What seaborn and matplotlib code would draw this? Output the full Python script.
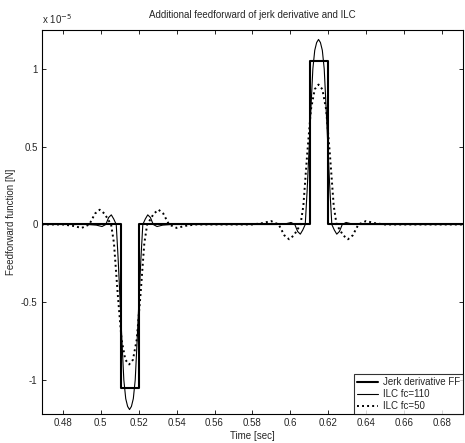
import matplotlib
matplotlib.use("Agg")
import matplotlib.pyplot as plt
import seaborn as sns
import pandas as pd
from matplotlib.ticker import FormatStrFormatter, FixedLocator

# ---- data (values in units of 1e-5 N) ----
jerk_t = [0.469, 0.5108, 0.5108, 0.5200, 0.5200, 0.6102, 0.6102, 0.6198, 0.6198, 0.691]
jerk_v = [0.0, 0.0, -1.05, -1.05, 0.0, 0.0, 1.05, 1.05, 0.0, 0.0]

ilc110_t = [0.469, 0.4932, 0.4977, 0.5007, 0.5027, 0.5042, 0.5056, 0.5069, 0.5082, 0.5092,
            0.5102, 0.5112, 0.5122, 0.5132, 0.5142, 0.5152, 0.5162, 0.5172, 0.5182, 0.5192,
            0.5202, 0.5212, 0.5222, 0.5235, 0.5248, 0.5262, 0.5277, 0.5297, 0.5327, 0.5372,
            0.5928, 0.5973, 0.6003, 0.6023, 0.6038, 0.6052, 0.6065, 0.6078, 0.6088, 0.6098,
            0.6108, 0.6118, 0.6128, 0.6138, 0.6148, 0.6158, 0.6168, 0.6178, 0.6188, 0.6198,
            0.6208, 0.6218, 0.6231, 0.6244, 0.6258, 0.6273, 0.6293, 0.6323, 0.6368, 0.691]
ilc110_v = [0.0, 0.0, -0.004, -0.013, 0.0, 0.045, 0.062, 0.035, 0.0, -0.22,
            -0.48, -0.75, -1.0, -1.12, -1.17, -1.19, -1.17, -1.12, -1.0, -0.75,
            -0.48, -0.22, 0.0, 0.035, 0.062, 0.045, 0.0, -0.013, -0.004, 0.0,
            0.0, 0.004, 0.013, 0.0, -0.045, -0.062, -0.035, 0.0, 0.22, 0.48,
            0.75, 1.0, 1.12, 1.17, 1.19, 1.17, 1.12, 1.0, 0.75, 0.48,
            0.22, 0.0, -0.035, -0.062, -0.045, 0.0, 0.013, 0.004, 0.0, 0.0]

ilc50_t = [0.469, 0.4800, 0.4850, 0.4900, 0.4940, 0.4970, 0.4995, 0.5020, 0.5040, 0.5055,
           0.5070, 0.5090, 0.5110, 0.5130, 0.5150, 0.5170, 0.5190, 0.5210, 0.5230, 0.5245,
           0.5260, 0.5280, 0.5305, 0.5330, 0.5360, 0.5400, 0.5450, 0.5500,
           0.5798, 0.5848, 0.5898, 0.5938, 0.5968, 0.5993, 0.6018, 0.6038, 0.6053, 0.6068,
           0.6088, 0.6108, 0.6128, 0.6148, 0.6168, 0.6188, 0.6208, 0.6228, 0.6243, 0.6258,
           0.6278, 0.6303, 0.6328, 0.6358, 0.6398, 0.6448, 0.6498, 0.691]
ilc50_v = [0.0, 0.0, -0.008, -0.022, 0.0, 0.07, 0.095, 0.07, 0.03, 0.0,
           -0.12, -0.45, -0.74, -0.87, -0.9, -0.87, -0.74, -0.45, -0.12, 0.0,
           0.03, 0.07, 0.095, 0.07, 0.0, -0.022, -0.008, 0.0,
           0.0, 0.008, 0.022, 0.0, -0.07, -0.095, -0.07, -0.03, 0.0, 0.12,
           0.45, 0.74, 0.87, 0.9, 0.87, 0.74, 0.45, 0.12, 0.0, -0.03,
           -0.07, -0.095, -0.07, 0.0, 0.022, 0.008, 0.0, 0.0]

x_ticks = [0.48, 0.50, 0.52, 0.54, 0.56, 0.58, 0.60, 0.62, 0.64, 0.66, 0.68]
y_ticks = [-1.0, -0.5, 0.0, 0.5, 1.0]
labels = ["Jerk derivative FF", "ILC fc=110", "ILC fc=50"]

sns.set_style("ticks")
plt.rcParams['font.family'] = ['Liberation Sans', 'DejaVu Sans']
plt.rcParams['xtick.direction'] = 'in'
plt.rcParams['ytick.direction'] = 'in'

fig = plt.figure(figsize=(4.65, 4.43), dpi=100)
ax = fig.add_axes([0.090, 0.065, 0.906, 0.867])

df1 = pd.DataFrame({"t": jerk_t, "v": jerk_v})
df2 = pd.DataFrame({"t": ilc110_t, "v": ilc110_v})
df3 = pd.DataFrame({"t": ilc50_t, "v": ilc50_v})

sns.lineplot(data=df1, x="t", y="v", ax=ax, sort=False, estimator=None,
             color="black", linewidth=1.5, label=labels[0])
sns.lineplot(data=df2, x="t", y="v", ax=ax, sort=False, estimator=None,
             color="black", linewidth=0.8, label=labels[1])
sns.lineplot(data=df3, x="t", y="v", ax=ax, sort=False, estimator=None,
             color="black", linewidth=1.4, linestyle=(0, (1, 1.6)), label=labels[2])

ax.set_xlim(0.469, 0.691)
ax.set_ylim(-1.22, 1.25)
ax.xaxis.set_major_locator(FixedLocator(x_ticks))
ax.yaxis.set_major_locator(FixedLocator(y_ticks))
ax.xaxis.set_major_formatter(FormatStrFormatter('%g'))
ax.yaxis.set_major_formatter(FormatStrFormatter('%g'))
ax.tick_params(axis='both', which='major', labelsize=7, length=3, width=0.7,
               top=True, right=True, direction='in', pad=3)
for s in ax.spines.values():
    s.set_linewidth(0.8)
    s.set_color("black")

ax.set_title("Additional feedforward of jerk derivative and ILC", fontsize=7, pad=9)
ax.set_xlabel("Time [sec]", fontsize=7, labelpad=2)
ax.set_ylabel("Feedforward function [N]", fontsize=7, labelpad=4)
ax.text(0.0, 1.012, r"x 10$^{-5}$", transform=ax.transAxes, fontsize=7,
        ha="left", va="bottom")

leg = ax.legend(loc="lower right", fontsize=7, frameon=True, fancybox=False,
                edgecolor="black", borderaxespad=0.0, handlelength=2.2,
                labelspacing=0.2, borderpad=0.3, handletextpad=0.5)
leg.get_frame().set_linewidth(0.8)

fig.savefig("out.png", dpi=100)
